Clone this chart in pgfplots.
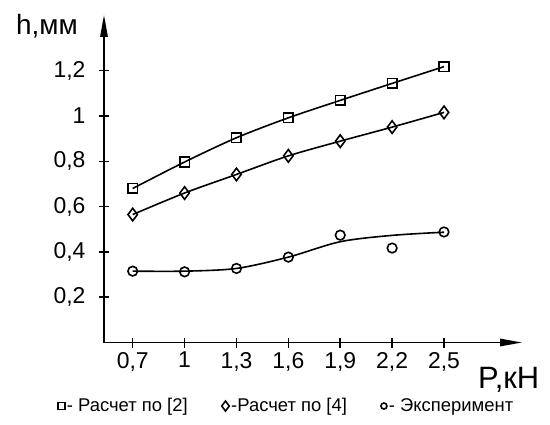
\documentclass[border=0pt]{standalone}
\usepackage{fontspec}
\setmainfont{Liberation Sans}
\usepackage{pgfplots}
\pgfplotsset{compat=1.18}
\usetikzlibrary{arrows.meta}
\pgfplotsset{
  legsq/.style={legend image code/.code={\draw[##1, mark size=3.4bp, line width=1.5bp] plot[only marks] coordinates {(0bp,0bp)};}},
  legdi/.style={legend image code/.code={\draw[##1, mark size=5bp, line width=1.5bp] plot[only marks] coordinates {(0bp,0bp)};}},
  legci/.style={legend image code/.code={\draw[##1, mark size=3bp, line width=1.4bp] plot[only marks] coordinates {(0bp,0bp)};}},
}
\begin{document}
\begin{tikzpicture}
\begin{axis}[
  name=ax,
  scale only axis, width=418bp, height=327.5bp,
  xmin=0.534, xmax=2.951, ymin=0, ymax=1.446,
  axis lines*=left,
  axis line style={line width=1.5bp, -{Triangle[length=22bp,width=7.5bp]}},
  xtick={0.7,1,1.3,1.6,1.9,2.2,2.5},
  ytick={0.2,0.4,0.6,0.8,1,1.2},
  tick align=center,
  major tick length=10bp,
  tick style={line width=1.5bp, black},
  /pgf/number format/.cd, use comma, fixed, assume math mode=true,
  /pgfplots/.cd,
  tick label style={font=\fontsize{23}{23}\selectfont},
  yticklabel style={xshift=-10bp},
  xticklabel style={yshift=-1bp},
  clip=false,
  legend style={at={(0.437,-0.194)}, anchor=center, draw=none, fill=none,
    font=\fontsize{18.5}{18.5}\selectfont, inner sep=0pt,
    /tikz/every even column/.append style={column sep=32bp}},
  legend columns=3,
  legend cell align=left,
]
\addplot[black, line width=1.6bp, smooth, mark=square, mark size=4.8bp,
  mark options={solid, line width=1.6bp}, legsq]
  coordinates {(0.7,0.680) (1.0,0.797) (1.3,0.904) (1.6,0.992) (1.9,1.069) (2.2,1.144) (2.5,1.218)};
\addlegendentry{- Расчет по [2]}
\addplot[black, line width=1.6bp, smooth, mark=diamond, mark size=6.3bp,
  mark options={solid, line width=1.6bp}, legdi]
  coordinates {(0.7,0.565) (1.0,0.660) (1.3,0.742) (1.6,0.824) (1.9,0.889) (2.2,0.951) (2.5,1.016)};
\addlegendentry{-Расчет по [4]}
\addplot[black, only marks, mark=o, mark size=4.8bp,
  mark options={solid, line width=1.6bp}, legci]
  coordinates {(0.7,0.315) (1.0,0.312) (1.3,0.327) (1.6,0.377) (1.9,0.474) (2.2,0.417) (2.5,0.488)};
\addlegendentry{- Эксперимент}
\addplot[black, line width=1.6bp, smooth, no marks, forget plot]
  coordinates {(0.7,0.315) (1.0,0.315) (1.3,0.327) (1.6,0.377) (1.9,0.445) (2.2,0.473) (2.5,0.487)};
\end{axis}
\node[anchor=base west, font=\fontsize{28}{28}\selectfont, inner sep=0pt]
  at ([shift={(-88bp,307.5bp)}]ax.south west) {h,мм};
\node[anchor=base west, font=\fontsize{31}{31}\selectfont, inner sep=0pt]
  at ([shift={(374bp,-45.5bp)}]ax.south west) {P,кН};
\path ([shift={(-104bp,-82.5bp)}]ax.south west) rectangle ++(550bp,425bp);
\end{tikzpicture}
\end{document}
